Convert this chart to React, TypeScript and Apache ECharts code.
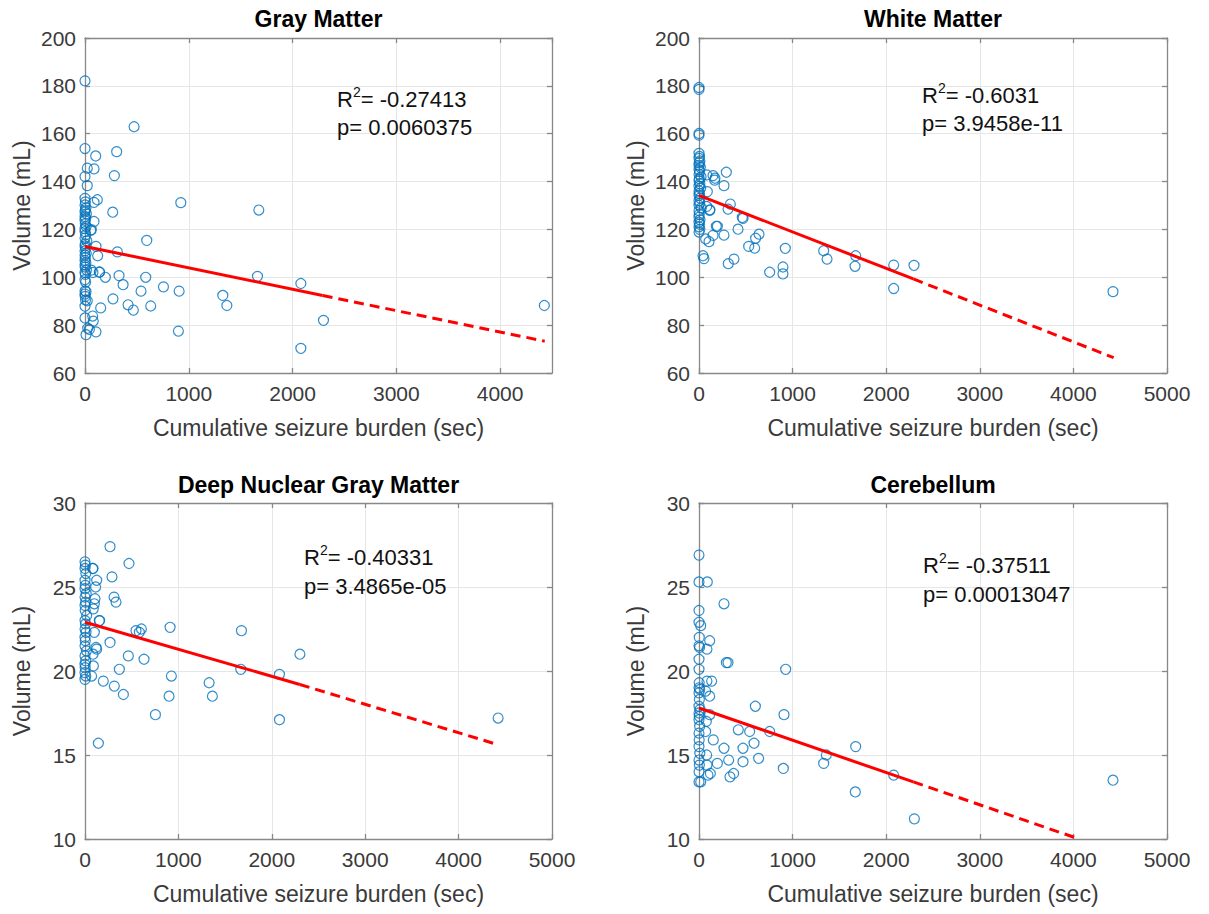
import React, { useEffect, useRef } from "react";
import * as echarts from "echarts";

const FONT = "'Liberation Sans', Arial, Helvetica, sans-serif";

// ---------------- data ----------------
const panelTitles = ["Gray Matter", "White Matter", "Deep Nuclear Gray Matter", "Cerebellum"];
const xAxisName = "Cumulative seizure burden (sec)";
const yAxisName = "Volume (mL)";
const xMaxes = [4500, 5000, 5000, 5000];
const xStep = 1000;
const yMins = [60, 60, 10, 10];
const yMaxes = [200, 200, 30, 30];
const ySteps = [20, 20, 5, 5];
const rValues = ["-0.27413", "-0.6031", "-0.40331", "-0.37511"];
const pValues = ["0.0060375", "3.9458e-11", "3.4865e-05", "0.00013047"];

// [seizure burden (sec), volume (mL)]
const grayMatter: [number, number][] = [
  [0, 182.1], [0, 153.8], [473, 162.9], [103, 150.7], [305, 152.5], [22, 145.6], [87, 145.3], [283, 142.5],
  [0, 142.1], [22, 138.3], [923, 131.2], [119, 132.4], [87, 131.3], [1675, 128.1], [267, 127.2], [595, 115.4],
  [87, 123.3], [55, 119.6], [106, 112.9], [122, 109], [312, 110.6], [138, 102.1], [196, 100], [328, 100.7],
  [367, 96.9], [585, 100], [756, 96], [540, 94.2], [907, 94.2], [1662, 100.4], [1328, 92.4], [270, 91],
  [151, 87.2], [415, 88.5], [466, 86.3], [633, 88], [1367, 88.2], [900, 77.5], [74, 83.8], [80, 81.7],
  [42, 78.2], [106, 77.2], [0, 83], [10, 76], [0, 87.9], [5, 90.5], [22, 90.2], [0, 94.3], [10, 94],
  [2080, 97.4], [2298, 82], [2080, 70.3], [4426, 88.2], [61, 119.9], [61, 103], [77, 102], [141, 102.2], [26, 78.7],
  [0, 133.0], [4, 131.5], [0, 130.2], [9, 129.0], [2, 128.1], [0, 127.3], [14, 126.5], [0, 125.4], [6, 124.6],
  [0, 123.8], [3, 122.4], [11, 121.2], [0, 120.3], [0, 119.1], [7, 117.8], [0, 116.4], [18, 115.2], [2, 114.0],
  [0, 113.1], [5, 112.2], [0, 111.0], [12, 110.1], [0, 109.3], [3, 108.2], [0, 107.0], [8, 106.1], [0, 105.2],
  [1, 104.3], [15, 103.1], [0, 102.0], [4, 101.2], [0, 99.0], [6, 98.0], [0, 93.0], [2, 92.0],
];

const whiteMatter: [number, number][] = [
  [0, 179.3], [0, 178.5], [0, 160.1], [0, 159.4], [292, 143.9], [267, 138.3], [335, 130.6], [310, 128.5],
  [114, 128], [167, 140.6], [150, 142.5], [89, 135.8], [463, 125], [470, 124.6], [417, 120.1], [196, 121.3],
  [267, 117.6], [150, 117.5], [71, 116], [107, 114.9], [641, 118], [605, 116.3], [531, 112.9], [595, 112.2],
  [922, 112.1], [1332, 111.1], [1368, 107.6], [374, 107.6], [313, 105.7], [53, 107.8], [43, 109], [755, 102.1],
  [897, 104.3], [897, 101.4], [1674, 109], [1667, 104.6], [2080, 105.1], [2080, 95.3], [2297, 105], [4423, 94],
  [82, 142.8], [171, 141.4], [117, 128.2], [82, 129.6], [185, 121.3],
  [0, 151.8], [5, 150.5], [0, 149.7], [10, 148.6], [2, 147.9], [0, 146.8], [14, 145.9], [0, 145.0], [6, 144.2],
  [0, 143.1], [22, 142.0], [3, 141.2], [0, 140.3], [9, 139.1], [0, 138.0], [17, 137.2], [0, 136.1], [4, 135.0],
  [0, 134.2], [12, 133.1], [0, 132.0], [7, 131.0], [0, 130.1], [25, 129.0], [0, 127.8], [3, 126.3], [0, 125.1],
  [11, 124.0], [0, 123.0], [5, 122.2], [0, 121.1], [8, 120.0], [0, 118.9],
];

const deepNuclear: [number, number][] = [
  [268, 27.4], [471, 26.4], [289, 25.6], [311, 24.4], [332, 24.1], [82, 26.1], [125, 25.4], [114, 25],
  [107, 24.3], [100, 24], [89, 23.7], [153, 23], [100, 22.3], [268, 21.7], [546, 22.4], [604, 22.5],
  [582, 22.3], [911, 22.6], [1675, 22.4], [464, 20.9], [632, 20.7], [125, 21.3], [368, 20.1], [1668, 20.1],
  [925, 19.7], [2082, 19.8], [1329, 19.3], [196, 19.4], [314, 19.1], [411, 18.6], [900, 18.5], [1364, 18.5],
  [754, 17.4], [2082, 17.1], [143, 15.7], [90, 20.3], [2301, 21.0], [4423, 17.2], [86, 21.0], [118, 21.4],
  [71, 19.7], [157, 23.0], [86, 26.1],
  [0, 26.5], [4, 26.3], [0, 26.1], [9, 25.8], [0, 25.4], [3, 25.1], [0, 24.9], [13, 24.6], [0, 24.4],
  [6, 24.1], [0, 23.9], [2, 23.6], [18, 23.3], [0, 23.0], [5, 22.8], [0, 22.5], [11, 22.3], [0, 22.0],
  [3, 21.8], [0, 21.5], [15, 21.2], [0, 20.9], [7, 20.6], [0, 20.4], [2, 20.2], [0, 19.9], [9, 19.7], [0, 19.5],
];

const cerebellum: [number, number][] = [
  [89, 25.3], [267, 24], [18, 22.7], [114, 21.8], [85, 21.3], [292, 20.5], [310, 20.5], [926, 20.1],
  [85, 19.4], [135, 19.4], [71, 18.8], [114, 18.5], [602, 17.9], [908, 17.4], [114, 17.4], [78, 17],
  [420, 16.5], [541, 16.4], [755, 16.4], [71, 16.4], [153, 15.9], [588, 15.7], [267, 15.4], [470, 15.4],
  [1674, 15.5], [1360, 15.0], [1332, 14.5], [82, 15.0], [196, 14.5], [317, 14.7], [470, 14.6], [637, 14.8],
  [901, 14.2], [85, 14.4], [331, 13.7], [370, 13.9], [96, 13.8], [121, 13.9], [18, 13.4], [1670, 12.8],
  [2080, 13.8], [2301, 11.2], [4423, 13.5],
  [0, 26.9], [0, 25.3], [0, 23.6], [0, 22.9], [3, 22.0], [0, 21.5], [6, 21.4], [0, 20.7], [0, 20.1],
  [2, 19.3], [0, 19.0], [8, 18.9], [0, 18.7], [4, 18.3], [0, 17.9], [11, 17.7], [0, 17.5], [3, 17.3],
  [0, 17.1], [7, 16.7], [0, 16.3], [2, 15.9], [0, 15.5], [9, 15.1], [0, 14.7], [4, 14.4], [0, 14.0], [0, 13.4],
];

// regression fit: [start, end of solid part, end of dashed part]
const gmFit: [number, number][] = [[0, 112.9], [2290, 92.4], [4430, 73.3]];
const wmFit: [number, number][] = [[0, 134.2], [2290, 99.3], [4430, 66.4]];
const dnFit: [number, number][] = [[0, 22.9], [2300, 19.2], [4430, 15.6]];
const cbFit: [number, number][] = [[0, 17.8], [2290, 13.4], [4060, 10.0]];

const panelData = [grayMatter, whiteMatter, deepNuclear, cerebellum];
const panelFits = [gmFit, wmFit, dnFit, cbFit];

// ---------------- layout ----------------
const grids = [
  { left: 85, top: 38, width: 467, height: 335 },
  { left: 699, top: 38, width: 468, height: 335 },
  { left: 85, top: 503, width: 467, height: 336 },
  { left: 699, top: 503, width: 468, height: 336 },
];
const annot = [
  { x: 337, ry: 99, py: 127 },
  { x: 922, ry: 95, py: 123.5 },
  { x: 304, ry: 557, py: 586 },
  { x: 923, ry: 565, py: 594.5 },
];
const titleY = [19, 19, 485, 485];

const BOX = "#888888";
const TICKTXT = "#3a3a3a";
const GRID = "#e6e6e6";
const BLUE = "#0072BD";
const RED = "#ff0000";

export default function App() {
  const ref = useRef<HTMLDivElement>(null);

  useEffect(() => {
    if (!ref.current) return;
    const chart = echarts.init(ref.current, undefined, { renderer: "svg" });

    const xAxes: any[] = [];
    const yAxes: any[] = [];
    const series: any[] = [];
    const graphics: any[] = [];

    grids.forEach((g, i) => {
      const lineStyle = { color: BOX, width: 1.3 };
      const tick = { show: true, inside: true, length: 5, lineStyle };
      xAxes.push({
        type: "value",
        gridIndex: i,
        position: "bottom",
        min: 0,
        max: xMaxes[i],
        interval: xStep,
        axisLine: { show: true, onZero: false, lineStyle },
        axisTick: tick,
        axisLabel: {
          margin: 10,
          fontSize: 21,
          fontFamily: FONT,
          color: TICKTXT,
          showMaxLabel: xMaxes[i] % xStep === 0,
          formatter: (v: number) => (v % xStep === 0 ? String(v) : ""),
        },
        splitLine: { show: true, lineStyle: { color: GRID, width: 1 } },
        name: xAxisName,
        nameLocation: "middle",
        nameGap: 43,
        nameTextStyle: { fontSize: 23, fontFamily: FONT, color: TICKTXT },
      });
      xAxes.push({
        type: "value",
        gridIndex: i,
        position: "top",
        min: 0,
        max: xMaxes[i],
        interval: xStep,
        axisLine: { show: true, onZero: false, lineStyle },
        axisTick: tick,
        axisLabel: { show: false },
        splitLine: { show: false },
      });
      yAxes.push({
        type: "value",
        gridIndex: i,
        position: "left",
        min: yMins[i],
        max: yMaxes[i],
        interval: ySteps[i],
        axisLine: { show: true, onZero: false, lineStyle },
        axisTick: tick,
        axisLabel: { margin: 9, fontSize: 21, fontFamily: FONT, color: TICKTXT },
        splitLine: { show: true, lineStyle: { color: GRID, width: 1 } },
        name: yAxisName,
        nameLocation: "middle",
        nameGap: 52,
        nameTextStyle: { fontSize: 23, fontFamily: FONT, color: TICKTXT },
      });
      yAxes.push({
        type: "value",
        gridIndex: i,
        position: "right",
        min: yMins[i],
        max: yMaxes[i],
        interval: ySteps[i],
        axisLine: { show: true, onZero: false, lineStyle },
        axisTick: tick,
        axisLabel: { show: false },
        splitLine: { show: false },
      });

      series.push({
        type: "scatter",
        xAxisIndex: 2 * i,
        yAxisIndex: 2 * i,
        data: panelData[i],
        symbol: "circle",
        symbolSize: 10,
        clip: false,
        itemStyle: { color: "rgba(0,0,0,0)", borderColor: BLUE, borderWidth: 1.2 },
        z: 2,
      });
      const fit = panelFits[i];
      series.push({
        type: "line",
        xAxisIndex: 2 * i,
        yAxisIndex: 2 * i,
        data: [fit[0], fit[1]],
        symbol: "none",
        lineStyle: { color: RED, width: 3 },
        z: 3,
      });
      series.push({
        type: "line",
        xAxisIndex: 2 * i,
        yAxisIndex: 2 * i,
        data: [fit[1], fit[2]],
        symbol: "none",
        lineStyle: { color: RED, width: 3, type: [10, 6] },
        z: 3,
      });

      graphics.push({
        type: "text",
        x: g.left + g.width / 2,
        y: titleY[i],
        z: 20,
        style: {
          text: panelTitles[i],
          align: "center",
          verticalAlign: "middle",
          fontSize: 23,
          fontWeight: "bold",
          fontFamily: FONT,
          fill: "#000",
        },
      });
      const a = annot[i];
      graphics.push({
        type: "text",
        x: a.x,
        y: a.ry,
        z: 20,
        style: {
          text: "{a|R}{s|2}{a|= " + rValues[i] + "}",
          align: "left",
          verticalAlign: "middle",
          rich: {
            a: { fontSize: 22, fontFamily: FONT, fill: "#111", lineHeight: 28 },
            s: { fontSize: 14, fontFamily: FONT, fill: "#111", lineHeight: 14, verticalAlign: "top" },
          },
        },
      });
      graphics.push({
        type: "text",
        x: a.x,
        y: a.py,
        z: 20,
        style: {
          text: "p= " + pValues[i],
          align: "left",
          verticalAlign: "middle",
          fontSize: 22,
          fontFamily: FONT,
          fill: "#111",
        },
      });
    });

    chart.setOption({
      animation: false,
      backgroundColor: "#ffffff",
      grid: grids.map((g) => ({ ...g, containLabel: false, show: false })),
      xAxis: xAxes,
      yAxis: yAxes,
      series,
      graphic: graphics,
    });

    return () => chart.dispose();
  }, []);

  return (
    <div
      ref={ref}
      style={{ position: "absolute", left: 0, top: 0, width: 1209, height: 914 }}
    />
  );
}
